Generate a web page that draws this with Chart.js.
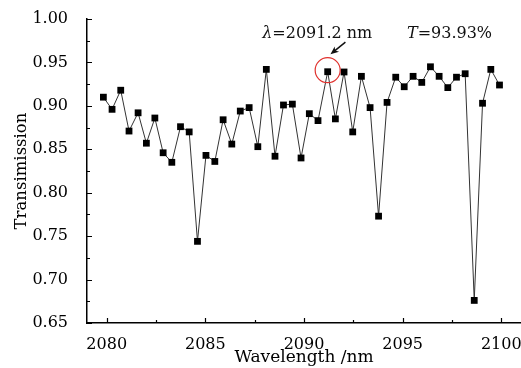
<!DOCTYPE html>
<html>
<head>
<meta charset="utf-8">
<script src="https://cdn.jsdelivr.net/npm/chart.js@4"></script>
<style>
  html, body { margin: 0; padding: 0; background: #fff; }
  #wrap { width: 521px; height: 368px; }
</style>
</head>
<body>
<div id="wrap"><canvas id="chart" width="521" height="368"></canvas></div>
<script>
// wavelength (nm) and transmission
var wavelength = [
  2079.83, 2080.27, 2080.71, 2081.13, 2081.59, 2082.01, 2082.44, 2082.86,
  2083.30, 2083.74, 2084.18, 2084.60, 2085.03, 2085.48, 2085.90, 2086.34,
  2086.77, 2087.22, 2087.66, 2088.09, 2088.53, 2088.96, 2089.41, 2089.85,
  2090.27, 2090.71, 2091.20, 2091.59, 2092.03, 2092.47, 2092.91, 2093.35,
  2093.78, 2094.21, 2094.65, 2095.08, 2095.53, 2095.97, 2096.41, 2096.85,
  2097.29, 2097.73, 2098.17, 2098.63, 2099.05, 2099.47, 2099.91
];
var transmission = [
  0.910, 0.896, 0.918, 0.871, 0.892, 0.857, 0.886, 0.846,
  0.835, 0.876, 0.870, 0.744, 0.843, 0.836, 0.884, 0.856,
  0.894, 0.898, 0.853, 0.942, 0.842, 0.901, 0.902, 0.840,
  0.891, 0.883, 0.9393, 0.885, 0.939, 0.870, 0.934, 0.898,
  0.773, 0.904, 0.933, 0.922, 0.934, 0.927, 0.945, 0.934,
  0.921, 0.933, 0.937, 0.676, 0.903, 0.942, 0.924
];
var xTicks = [2080, 2085, 2090, 2095, 2100];
var yTicks = [0.65, 0.70, 0.75, 0.80, 0.85, 0.90, 0.95, 1.00];

var markIndex = 26; // the circled point
var serif = '"DejaVu Serif", "Liberation Serif", serif';

var points = wavelength.map(function (w, i) { return { x: w, y: transmission[i] }; });

// ticks drawn inward, like the original plot
var inwardTicks = {
  id: 'inwardTicks',
  afterDraw: function (chart) {
    var ctx = chart.ctx, xs = chart.scales.x, ys = chart.scales.y;
    var area = chart.chartArea;
    ctx.save();
    ctx.strokeStyle = '#000';
    ctx.lineWidth = 1.2;
    ctx.beginPath();
    xTicks.forEach(function (v) {
      var px = Math.round(xs.getPixelForValue(v)) + 0.5;
      ctx.moveTo(px, area.bottom); ctx.lineTo(px, area.bottom - 5);
      var m = v + 2.5;
      if (m < xs.max) {
        var pm = Math.round(xs.getPixelForValue(m)) + 0.5;
        ctx.moveTo(pm, area.bottom); ctx.lineTo(pm, area.bottom - 3);
      }
    });
    yTicks.forEach(function (v) {
      var py = Math.round(ys.getPixelForValue(v)) + 0.5;
      ctx.moveTo(area.left, py); ctx.lineTo(area.left + 5, py);
      var m = v + 0.025;
      if (m < ys.max) {
        var pm = Math.round(ys.getPixelForValue(m)) + 0.5;
        ctx.moveTo(area.left, pm); ctx.lineTo(area.left + 3, pm);
      }
    });
    ctx.stroke();
    ctx.restore();
  }
};

function drawParts(ctx, x, y, parts) {
  parts.forEach(function (p) {
    ctx.font = (p.italic ? 'italic ' : '') + '16px ' + serif;
    ctx.fillText(p.text, x, y);
    x += ctx.measureText(p.text).width;
  });
}

// label, circle and arrow for the marked point
var markNote = {
  id: 'markNote',
  afterDatasetsDraw: function (chart) {
    var ctx = chart.ctx, xs = chart.scales.x, ys = chart.scales.y;
    ctx.save();
    ctx.fillStyle = '#111';
    ctx.textBaseline = 'alphabetic';
    ctx.textAlign = 'left';
    drawParts(ctx, xs.getPixelForValue(2087.88), ys.getPixelForValue(0.9787), [
      { text: 'λ', italic: true }, { text: '=2091.2 nm' }
    ]);
    drawParts(ctx, xs.getPixelForValue(2095.22), ys.getPixelForValue(0.9787), [
      { text: 'T', italic: true }, { text: '=93.93%' }
    ]);

    var cx = xs.getPixelForValue(wavelength[markIndex]);
    var cy = ys.getPixelForValue(transmission[markIndex]) - 1.5;
    ctx.strokeStyle = '#e0302c';
    ctx.lineWidth = 1.2;
    ctx.beginPath();
    ctx.arc(cx, cy, 12.5, 0, Math.PI * 2);
    ctx.stroke();

    var x0 = xs.getPixelForValue(2092.10), y0 = ys.getPixelForValue(0.9733);
    var x1 = xs.getPixelForValue(2091.34), y1 = ys.getPixelForValue(0.9593);
    var ang = Math.atan2(y1 - y0, x1 - x0);
    ctx.strokeStyle = '#111';
    ctx.fillStyle = '#111';
    ctx.lineWidth = 1.5;
    ctx.beginPath();
    ctx.moveTo(x0, y0);
    ctx.lineTo(x1 - 5 * Math.cos(ang), y1 - 5 * Math.sin(ang));
    ctx.stroke();
    ctx.beginPath();
    ctx.moveTo(x1, y1);
    ctx.lineTo(x1 - 9 * Math.cos(ang - 0.4), y1 - 9 * Math.sin(ang - 0.4));
    ctx.lineTo(x1 - 6 * Math.cos(ang), y1 - 6 * Math.sin(ang));
    ctx.lineTo(x1 - 9 * Math.cos(ang + 0.4), y1 - 9 * Math.sin(ang + 0.4));
    ctx.closePath();
    ctx.fill();
    ctx.restore();
  }
};

new Chart(document.getElementById('chart').getContext('2d'), {
  type: 'scatter',
  data: {
    datasets: [{
      data: points,
      showLine: true,
      borderColor: '#333',
      borderWidth: 1,
      pointStyle: 'rect',
      pointRadius: 4.8,
      pointBackgroundColor: '#000',
      pointBorderWidth: 0,
      tension: 0
    }]
  },
  options: {
    responsive: false,
    animation: false,
    layout: { autoPadding: false, padding: { top: 19, right: 0, left: 0, bottom: 0 } },
    plugins: {
      legend: { display: false },
      tooltip: { enabled: false }
    },
    scales: {
      x: {
        type: 'linear',
        min: 2079,
        max: 2101,
        afterBuildTicks: function (s) { s.ticks = xTicks.map(function (v) { return { value: v }; }); },
        afterFit: function (s) { s.height = 45; s.paddingLeft = 0; s.paddingRight = 0; },
        grid: { display: false },
        border: { display: true, color: '#000', width: 1.5 },
        ticks: {
          color: '#000',
          padding: 4,
          maxRotation: 0,
          font: { family: serif, size: 16 },
          callback: function (v) { return String(v); }
        },
        title: {
          display: true,
          text: 'Wavelength /nm',
          color: '#000',
          padding: { top: 0, bottom: 0 },
          font: { family: serif, size: 17 }
        }
      },
      y: {
        min: 0.65,
        max: 1.00,
        afterBuildTicks: function (s) { s.ticks = yTicks.map(function (v) { return { value: v }; }); },
        afterFit: function (s) { s.width = 87; s.paddingTop = 0; s.paddingBottom = 0; },
        grid: { display: false },
        border: { display: true, color: '#000', width: 1.5 },
        ticks: {
          color: '#000',
          padding: 11,
          font: { family: serif, size: 16 },
          callback: function (v) { return v.toFixed(2); }
        },
        title: {
          display: true,
          text: 'Transimission',
          color: '#000',
          padding: { top: 12, bottom: 0 },
          font: { family: serif, size: 16.5 }
        }
      }
    }
  },
  plugins: [inwardTicks, markNote]
});
</script>
</body>
</html>
